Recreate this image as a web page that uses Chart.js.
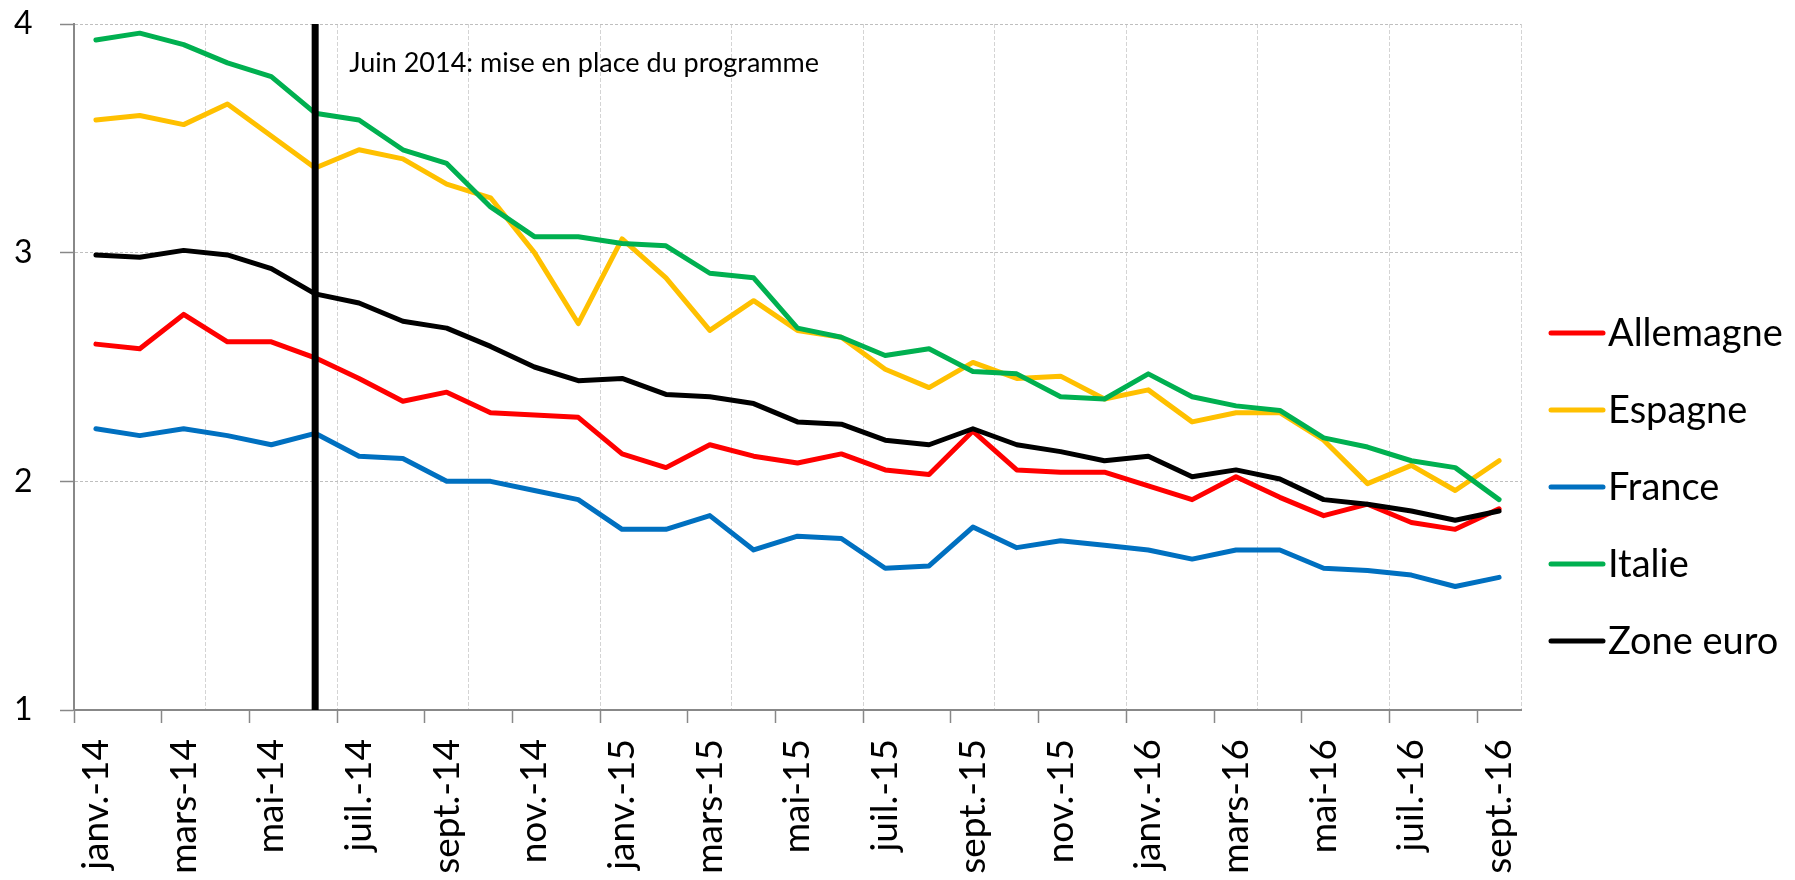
<!DOCTYPE html>
<html lang="fr">
<head>
<meta charset="utf-8">
<title>Taux d'intérêt - zone euro</title>
<script src="https://cdn.jsdelivr.net/npm/chart.js@4.4.1/dist/chart.umd.min.js"></script>
<style>
  html, body { margin: 0; padding: 0; background: #fff; }
  #cadre { width: 1795px; height: 880px; }
</style>
</head>
<body>
<div id="cadre"><canvas id="graphique" width="1795" height="880"></canvas></div>
<script>
// Mois : janv. 2014 -> sept. 2016
const mois = [
  'janv.-14', 'févr.-14', 'mars-14', 'avr.-14', 'mai-14', 'juin-14',
  'juil.-14', 'août-14', 'sept.-14', 'oct.-14', 'nov.-14', 'déc.-14',
  'janv.-15', 'févr.-15', 'mars-15', 'avr.-15', 'mai-15', 'juin-15',
  'juil.-15', 'août-15', 'sept.-15', 'oct.-15', 'nov.-15', 'déc.-15',
  'janv.-16', 'févr.-16', 'mars-16', 'avr.-16', 'mai-16', 'juin-16',
  'juil.-16', 'août-16', 'sept.-16'
];

// Séries
const allemagne = [2.60, 2.58, 2.73, 2.61, 2.61, 2.54, 2.45, 2.35, 2.39, 2.30, 2.29, 2.28,
  2.12, 2.06, 2.16, 2.11, 2.08, 2.12, 2.05, 2.03, 2.22, 2.05, 2.04, 2.04,
  1.98, 1.92, 2.02, 1.93, 1.85, 1.90, 1.82, 1.79, 1.88];
const espagne = [3.58, 3.60, 3.56, 3.65, 3.51, 3.37, 3.45, 3.41, 3.30, 3.24, 3.00, 2.69,
  3.06, 2.89, 2.66, 2.79, 2.66, 2.63, 2.49, 2.41, 2.52, 2.45, 2.46, 2.36,
  2.40, 2.26, 2.30, 2.30, 2.18, 1.99, 2.07, 1.96, 2.09];
const france = [2.23, 2.20, 2.23, 2.20, 2.16, 2.21, 2.11, 2.10, 2.00, 2.00, 1.96, 1.92,
  1.79, 1.79, 1.85, 1.70, 1.76, 1.75, 1.62, 1.63, 1.80, 1.71, 1.74, 1.72,
  1.70, 1.66, 1.70, 1.70, 1.62, 1.61, 1.59, 1.54, 1.58];
const italie = [3.93, 3.96, 3.91, 3.83, 3.77, 3.61, 3.58, 3.45, 3.39, 3.20, 3.07, 3.07,
  3.04, 3.03, 2.91, 2.89, 2.67, 2.63, 2.55, 2.58, 2.48, 2.47, 2.37, 2.36,
  2.47, 2.37, 2.33, 2.31, 2.19, 2.15, 2.09, 2.06, 1.92];
const zoneEuro = [2.99, 2.98, 3.01, 2.99, 2.93, 2.82, 2.78, 2.70, 2.67, 2.59, 2.50, 2.44,
  2.45, 2.38, 2.37, 2.34, 2.26, 2.25, 2.18, 2.16, 2.23, 2.16, 2.13, 2.09,
  2.11, 2.02, 2.05, 2.01, 1.92, 1.90, 1.87, 1.83, 1.87];

const pays = ['Allemagne', 'Espagne', 'France', 'Italie', 'Zone euro'];
const series = [allemagne, espagne, france, italie, zoneEuro];
const couleurs = ['#FF0000', '#FFC000', '#0070C0', '#00B050', '#000000'];

const graduationsY = [1, 2, 3, 4];
const moisProgramme = 'juin-14';
const texteProgramme = 'Juin 2014: mise en place du programme';

// Trait vertical + texte du programme
const ligneProgramme = {
  id: 'ligneProgramme',
  afterDatasetsDraw(chart) {
    const { ctx, chartArea, scales } = chart;
    const px = scales.x.getPixelForValue(mois.indexOf(moisProgramme));
    ctx.save();
    ctx.strokeStyle = '#000';
    ctx.lineWidth = 7;
    ctx.beginPath();
    ctx.moveTo(px, chartArea.top);
    ctx.lineTo(px, chartArea.bottom);
    ctx.stroke();
    ctx.font = '27px Lato';
    ctx.fillStyle = '#000';
    ctx.textBaseline = 'middle';
    ctx.fillText(texteProgramme, px + 34, chartArea.top + 39);
    ctx.restore();
  }
};

// Légende à droite
const legendeDroite = {
  id: 'legendeDroite',
  afterDraw(chart) {
    const ctx = chart.ctx;
    const x0 = chart.chartArea.right + 30;
    ctx.save();
    ctx.font = '38px Lato';
    ctx.textBaseline = 'middle';
    ctx.lineCap = 'round';
    chart.data.datasets.forEach((ds, i) => {
      const y = 333 + i * 77;
      ctx.strokeStyle = ds.borderColor;
      ctx.lineWidth = 5;
      ctx.beginPath();
      ctx.moveTo(x0, y);
      ctx.lineTo(x0 + 52, y);
      ctx.stroke();
      ctx.fillStyle = '#000';
      ctx.fillText(ds.label, x0 + 57, y + 1);
    });
    ctx.restore();
  }
};

const datasets = pays.map((nom, i) => ({
  label: nom,
  data: series[i],
  borderColor: couleurs[i],
  backgroundColor: couleurs[i],
  borderWidth: 5,
  pointRadius: 0,
  tension: 0,
  borderJoinStyle: 'round',
  borderCapStyle: 'round',
  order: pays.length - i
}));

new Chart(document.getElementById('graphique'), {
  type: 'line',
  data: { labels: mois, datasets: datasets },
  options: {
    responsive: false,
    animation: false,
    devicePixelRatio: 1,
    layout: { padding: { top: 24, right: 274, left: 14, bottom: 0 } },
    plugins: {
      legend: { display: false },
      tooltip: { enabled: false }
    },
    scales: {
      x: {
        offset: true,
        afterFit: function(scale) { scale.height = 170; },
        grid: {
          offset: true,
          drawOnChartArea: true,
          color: function(ctx) {
            const i = ctx.index === undefined ? mois.length : ctx.index;
            return (i > 0 && i % 3 === 0) ? '#d4d4d4' : 'rgba(0,0,0,0)';
          },
          tickColor: function(ctx) {
            const i = ctx.index === undefined ? mois.length : ctx.index;
            return i % 2 === 0 ? '#888888' : 'rgba(0,0,0,0)';
          },
          lineWidth: 1,
          tickWidth: 1.5,
          tickLength: 13
        },
        border: { display: true, color: '#888888', width: 2, dash: [4, 2] },
        ticks: {
          autoSkip: false,
          maxRotation: 90,
          minRotation: 90,
          padding: 16,
          color: '#000',
          font: { family: 'Lato', size: 37 },
          callback: function(val, index) {
            return index % 2 === 0 ? mois[index] : '';
          }
        }
      },
      y: {
        min: graduationsY[0],
        max: graduationsY[graduationsY.length - 1],
        afterFit: function(scale) { scale.width = 60; },
        afterBuildTicks: function(scale) {
          scale.ticks = graduationsY.map(v => ({ value: v }));
        },
        grid: {
          color: function(ctx) {
            return ctx.tick && ctx.tick.value === graduationsY[0] ? 'rgba(0,0,0,0)' : '#bfbfbf';
          },
          tickColor: '#888888',
          lineWidth: 1,
          tickWidth: 1.5,
          tickLength: 14
        },
        border: { display: true, color: '#888888', width: 2, dash: [3, 2] },
        ticks: {
          padding: 0,
          crossAlign: 'far',
          color: '#000',
          font: { family: 'Lato', size: 32 }
        }
      }
    }
  },
  plugins: [ligneProgramme, legendeDroite]
});
</script>
</body>
</html>
